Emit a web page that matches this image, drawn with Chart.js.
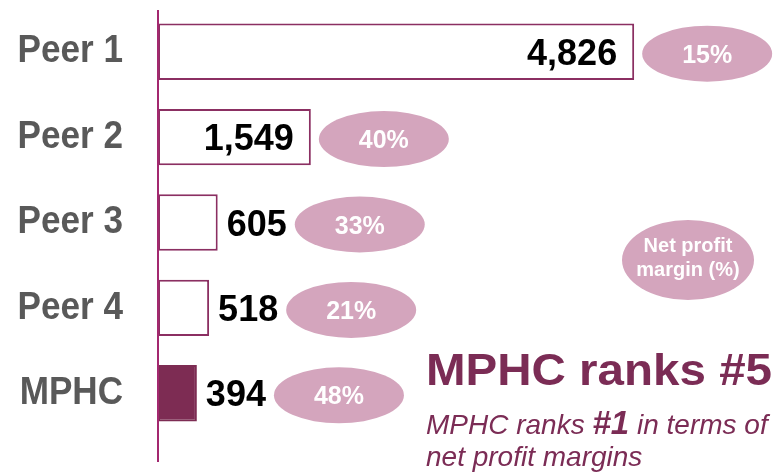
<!DOCTYPE html>
<html><head><meta charset="utf-8">
<script src="https://cdn.jsdelivr.net/npm/chart.js@4"></script>
<style>
html,body{margin:0;padding:0;background:#fff;}
#wrap{position:relative;width:777px;height:472px;overflow:hidden;font-family:"Liberation Sans",Arial,sans-serif;}
canvas{position:absolute;left:0;top:0;}
.t{position:absolute;white-space:nowrap;color:#7B2C55;transform-origin:0 0;}
.title{left:426px;top:347px;font-size:45px;font-weight:bold;line-height:45px;transform:scaleX(1.056);}
.sub1{left:426px;top:409px;font-size:28px;font-style:italic;line-height:28px;}
.sub2{left:426px;top:443px;font-size:28px;font-style:italic;line-height:28px;}
.sub1 b{font-size:33px;line-height:28px;}
</style></head>
<body><div id="wrap"><canvas id="c" width="777" height="472"></canvas>
<div class="t title">MPHC ranks #5</div>
<div class="t sub1">MPHC ranks <b>#1</b> in terms of</div>
<div class="t sub2">net profit margins</div>
</div>
<script>
const categories = ["Peer 1", "Peer 2", "Peer 3", "Peer 4", "MPHC"];
const revenue = [4826, 1549, 605, 518, 394];
const netMarginPct = [15, 40, 33, 21, 48];
const highlight = "MPHC";
const marginLegend = ["Net profit", "margin (%)"];

const BORDER = "#8B2F62";
const FILL_HL = "#7D2C53";
const PINK = "#D4A5BD";
const FONT = '"Liberation Sans", Arial, sans-serif';
const LABEL_RIGHT_PAD = 35;
const LABEL_SCALE_X = 0.9;

// slightly condensed category labels (y axis is drawn between these two hooks)
const condense = {
  id: "condense",
  beforeDraw(chart) {
    const ctx = chart.ctx;
    const ax = chart.scales.y.right - LABEL_RIGHT_PAD;
    ctx.save();
    ctx.translate(ax, 0);
    ctx.scale(LABEL_SCALE_X, 1);
    ctx.translate(-ax, 0);
  },
  beforeDatasetsDraw(chart) {
    chart.ctx.restore();
  }
};

const axisLine = {
  id: "axisLine",
  afterDatasetsDraw(chart) {
    const ctx = chart.ctx, a = chart.chartArea;
    const x = chart.scales.x.getPixelForValue(0);
    ctx.save();
    ctx.strokeStyle = "#A3286F";
    ctx.lineWidth = 2;
    ctx.beginPath();
    ctx.moveTo(x, a.top + 1);
    ctx.lineTo(x, a.bottom + 26);
    ctx.stroke();
    ctx.restore();
  }
};

const labels = {
  id: "labels",
  afterDatasetsDraw(chart) {
    const ctx = chart.ctx;
    const meta = chart.getDatasetMeta(0);
    ctx.save();
    meta.data.forEach((bar, i) => {
      const end = bar.x, base = bar.base;
      const txt = revenue[i].toLocaleString("en-US");
      ctx.font = "bold 36px " + FONT;
      const w = ctx.measureText(txt).width;
      ctx.fillStyle = "#000";
      let labelEnd;
      const yb = bar.y + 13;
      if (end - base > w + 34) {
        ctx.textAlign = "right";
        ctx.fillText(txt, end - 17, yb);
        labelEnd = end;
      } else {
        ctx.textAlign = "left";
        ctx.fillText(txt, end + 9, yb);
        labelEnd = end + 9 + w;
      }
      const rx = 65, ry = 28;
      const cx = labelEnd + 8 + rx;
      const cy = bar.y + 2;
      ctx.fillStyle = PINK;
      ctx.beginPath();
      ctx.ellipse(cx, cy, rx, ry, 0, 0, Math.PI * 2);
      ctx.fill();
      ctx.fillStyle = "#fff";
      ctx.font = "bold 25px " + FONT;
      ctx.textAlign = "center";
      ctx.fillText(netMarginPct[i] + "%", cx, cy + 9);
    });
    // legend ellipse
    const lx = 688, ly = 260;
    ctx.fillStyle = PINK;
    ctx.beginPath();
    ctx.ellipse(lx, ly, 66, 40, 0, 0, Math.PI * 2);
    ctx.fill();
    ctx.fillStyle = "#fff";
    ctx.font = "bold 20px " + FONT;
    ctx.textAlign = "center";
    ctx.fillText(marginLegend[0], lx, ly - 8);
    ctx.fillText(marginLegend[1], lx, ly + 16);
    ctx.restore();
  }
};

new Chart(document.getElementById("c"), {
  type: "bar",
  data: {
    labels: categories,
    datasets: [{
      data: revenue,
      backgroundColor: categories.map(c => c === highlight ? FILL_HL : "#fff"),
      borderColor: categories.map(c => c === highlight ? FILL_HL : BORDER),
      borderWidth: 2,
      borderSkipped: false,
      barPercentage: 0.66,
      categoryPercentage: 1
    }]
  },
  options: {
    indexAxis: "y",
    responsive: false,
    animation: false,
    events: [],
    layout: { padding: { top: 9, bottom: 36, right: 27, left: 0 } },
    plugins: { legend: { display: false }, tooltip: { enabled: false } },
    scales: {
      x: { display: false, min: 0, max: 6000 },
      y: {
        grid: { display: false, drawTicks: false },
        border: { display: false },
        ticks: { color: "#595959", font: { family: FONT, size: 39, weight: "bold" }, padding: LABEL_RIGHT_PAD },
        afterFit(s) { s.width = 158; s.paddingTop = 0; s.paddingBottom = 0; }
      }
    }
  },
  plugins: [condense, axisLine, labels]
});
</script>
</body></html>
